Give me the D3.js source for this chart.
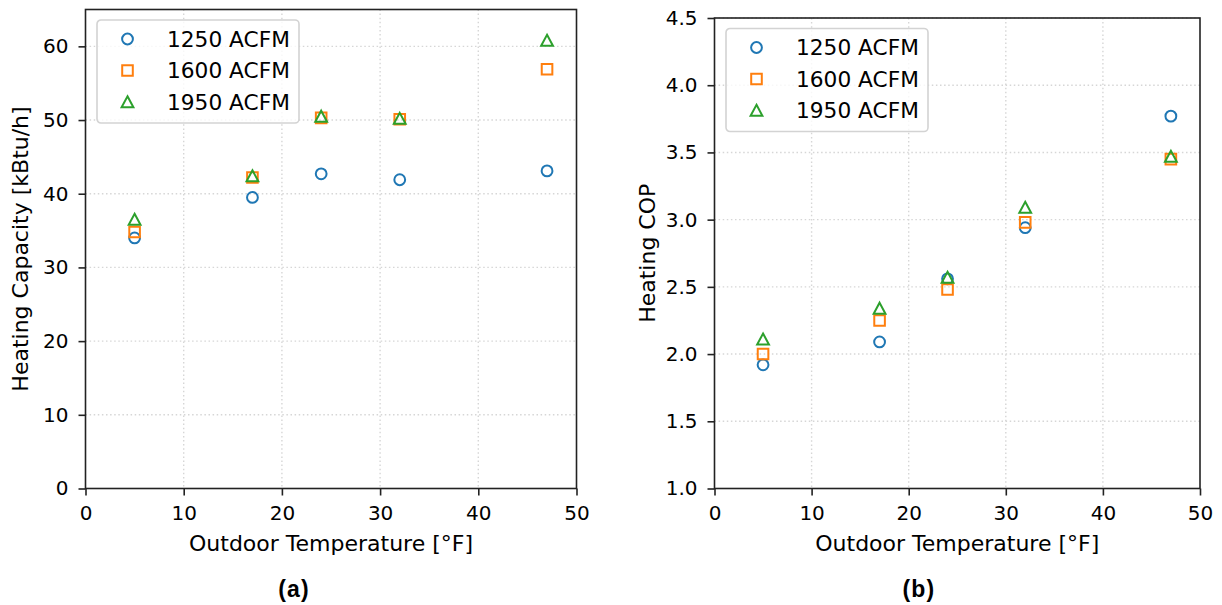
<!DOCTYPE html>
<html>
<head>
<meta charset="utf-8">
<script src="https://cdn.jsdelivr.net/npm/d3@7"></script>
<style>
  html, body { margin: 0; padding: 0; background: #fff; }
  svg { display: block; }
  text { font-family: "DejaVu Sans", sans-serif; fill: #000; }
</style>
</head>
<body>
<svg id="chart" width="1222" height="605"></svg>
<script>
// data
const tempF = [5, 17, 24, 32, 47];
const seriesNames = ["1250 ACFM", "1600 ACFM", "1950 ACFM"];
const seriesColors = ["#1f77b4", "#ff7f0e", "#2ca02c"];

const capacity1250 = [34.0, 39.5, 42.7, 41.9, 43.1];
const capacity1600 = [34.8, 42.2, 50.3, 50.1, 56.9];
const capacity1950 = [36.5, 42.4, 50.5, 50.2, 60.8];

const cop1250 = [1.92, 2.09, 2.56, 2.94, 3.77];
const cop1600 = [2.00, 2.25, 2.48, 2.98, 3.45];
const cop1950 = [2.11, 2.34, 2.57, 3.09, 3.47];

const tempTicks = [0, 10, 20, 30, 40, 50];
const capacityTicks = [0, 10, 20, 30, 40, 50, 60];
const copTicks = [1.0, 1.5, 2.0, 2.5, 3.0, 3.5, 4.0, 4.5];

const svg = d3.select("#chart");

function markerPath(kind) {
    if (kind === 0) return d3.symbol().type(d3.symbolCircle).size(Math.PI * 5.4 * 5.4)();
    if (kind === 1) return "M-5.3,-5.3H5.3V5.3H-5.3Z";
    return "M0,-5.7L5.9,5.3L-5.9,5.3Z";
}

function drawPanel(opt) {
    let x = d3.scaleLinear().domain([0, 50]).range([opt.left, opt.right]);
    let y = d3.scaleLinear().domain(opt.yDomain).range([opt.bottom, opt.top]);
    let g = svg.append("g");

    // grid
    g.append("g").selectAll("line").data(tempTicks.slice(1, -1)).join("line")
        .attr("x1", d => x(d)).attr("x2", d => x(d))
        .attr("y1", opt.top).attr("y2", opt.bottom)
        .attr("stroke", "#d6d6d6").attr("stroke-width", 1.4)
        .attr("stroke-dasharray", "1.5,2.6");
    g.append("g").selectAll("line").data(opt.yTicks.slice(1)).join("line")
        .attr("x1", opt.left).attr("x2", opt.right)
        .attr("y1", d => y(d)).attr("y2", d => y(d))
        .attr("stroke", "#d6d6d6").attr("stroke-width", 1.4)
        .attr("stroke-dasharray", "1.5,2.6");

    // axes
    let xAxis = g.append("g")
        .attr("transform", `translate(0,${opt.bottom})`)
        .call(d3.axisBottom(x).tickValues(tempTicks).tickSize(7).tickPadding(10).tickSizeOuter(0));
    let yAxis = g.append("g")
        .attr("transform", `translate(${opt.left},0)`)
        .call(d3.axisLeft(y).tickValues(opt.yTicks).tickFormat(opt.fmt).tickSize(7).tickPadding(10).tickSizeOuter(0));
    [xAxis, yAxis].forEach(a => {
        a.select(".domain").remove();
        a.selectAll(".tick line").attr("stroke", "#222").attr("stroke-width", 1.6);
        a.selectAll(".tick text").attr("font-size", 20).attr("fill", "#000");
    });

    // frame
    g.append("rect")
        .attr("x", opt.left).attr("y", opt.top)
        .attr("width", opt.right - opt.left).attr("height", opt.bottom - opt.top)
        .attr("fill", "none").attr("stroke", "#222").attr("stroke-width", 1.6);

    // points
    opt.series.forEach((vals, i) => {
        g.append("g").selectAll("path").data(vals).join("path")
            .attr("transform", (d, j) => `translate(${x(tempF[j])},${y(d)})`)
            .attr("d", markerPath(i))
            .attr("fill", "none")
            .attr("stroke", seriesColors[i])
            .attr("stroke-width", 2);
    });

    // legend
    let lx = opt.left + 11.5, ly = opt.top + 10.5;
    let lg = g.append("g").attr("transform", `translate(${lx},${ly})`);
    lg.append("rect")
        .attr("width", 202).attr("height", 103).attr("rx", 4)
        .attr("fill", "#fff").attr("fill-opacity", 0.8)
        .attr("stroke", "#d3d3d3").attr("stroke-width", 1.6);
    seriesNames.forEach((name, i) => {
        let ry = 19 + i * 31.5;
        lg.append("path")
            .attr("transform", `translate(30.5,${ry})`)
            .attr("d", markerPath(i))
            .attr("fill", "none").attr("stroke", seriesColors[i]).attr("stroke-width", 2);
        lg.append("text")
            .attr("x", 70).attr("y", ry).attr("dy", "0.36em")
            .attr("font-size", 21.7)
            .text(name);
    });

    // axis labels
    let cx = (opt.left + opt.right) / 2;
    g.append("text")
        .attr("x", cx).attr("y", 551)
        .attr("text-anchor", "middle").attr("font-size", 22)
        .text("Outdoor Temperature [°F]");
    g.append("text")
        .attr("transform", `translate(${opt.yLabelX},${(opt.top + opt.bottom) / 2}) rotate(-90)`)
        .attr("text-anchor", "middle").attr("font-size", 22)
        .text(opt.yLabel);
    g.append("text")
        .attr("x", opt.tagX).attr("y", 597)
        .attr("text-anchor", "middle")
        .style("font-family", "'Liberation Sans', Arial, sans-serif")
        .attr("font-weight", "bold").attr("font-size", 23)
        .attr("letter-spacing", 1.2)
        .text(opt.tag);
}

drawPanel({
    left: 85.5, right: 576.5, top: 9.5, bottom: 488.5,
    yDomain: [0, 65], yTicks: capacityTicks, fmt: d3.format("d"),
    series: [capacity1250, capacity1600, capacity1950],
    yLabel: "Heating Capacity [kBtu/h]", yLabelX: 28, tag: "(a)", tagX: 294
});

drawPanel({
    left: 714.5, right: 1200, top: 18, bottom: 488.5,
    yDomain: [1.0, 4.5], yTicks: copTicks, fmt: d3.format(".1f"),
    series: [cop1250, cop1600, cop1950],
    yLabel: "Heating COP", yLabelX: 655, tag: "(b)", tagX: 919
});
</script>
</body>
</html>
